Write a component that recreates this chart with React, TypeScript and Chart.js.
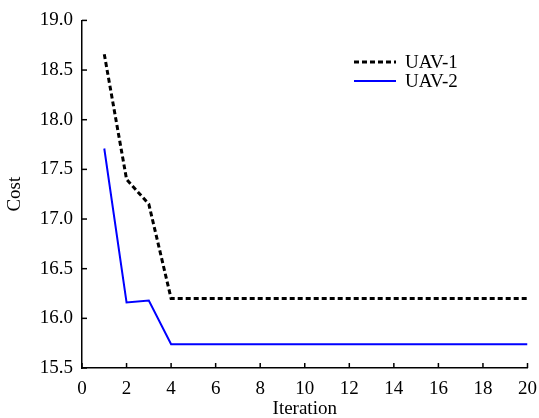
import React, { useEffect, useRef } from "react";
import { Chart, registerables } from "chart.js";

Chart.register(...registerables);

const iterations = [1, 2, 3, 4, 5, 6, 7, 8, 9, 10, 11, 12, 13, 14, 15, 16, 17, 18, 19, 20];
const uav1 = [18.66, 17.4, 17.15, 16.2, 16.2, 16.2, 16.2, 16.2, 16.2, 16.2, 16.2, 16.2, 16.2, 16.2, 16.2, 16.2, 16.2, 16.2, 16.2, 16.2];
const uav2 = [17.71, 16.16, 16.18, 15.74, 15.74, 15.74, 15.74, 15.74, 15.74, 15.74, 15.74, 15.74, 15.74, 15.74, 15.74, 15.74, 15.74, 15.74, 15.74, 15.74];
const seriesLabels = ["UAV-1", "UAV-2"];
const xTitle = "Iteration";
const yTitle = "Cost";

const FONT = '"Liberation Serif", "Times New Roman", serif';
const FS = 19;

const inwardTicks = {
  id: "inwardTicks",
  afterDraw(chart: any) {
    const ctx = chart.ctx;
    const area = chart.chartArea;
    ctx.save();
    ctx.strokeStyle = "#000";
    ctx.lineWidth = 1.5;
    const xs = chart.scales.x;
    xs.ticks.forEach((t: any) => {
      const px = xs.getPixelForValue(t.value);
      ctx.beginPath();
      ctx.moveTo(px, area.bottom);
      ctx.lineTo(px, area.bottom - 5);
      ctx.stroke();
    });
    const ys = chart.scales.y;
    ys.ticks.forEach((t: any) => {
      const py = ys.getPixelForValue(t.value);
      ctx.beginPath();
      ctx.moveTo(area.left, py);
      ctx.lineTo(area.left + 5, py);
      ctx.stroke();
    });
    ctx.restore();
  },
};

const customLegend = {
  id: "customLegend",
  afterDraw(chart: any) {
    const ctx = chart.ctx;
    ctx.save();
    const x0 = 354;
    const x1 = 396;
    const tx = 405;
    const rows = [62, 81];
    chart.data.datasets.forEach((ds: any, i: number) => {
      const y = rows[i];
      ctx.strokeStyle = ds.borderColor;
      ctx.lineWidth = ds.borderWidth;
      ctx.setLineDash(ds.borderDash || []);
      ctx.beginPath();
      ctx.moveTo(x0, y);
      ctx.lineTo(x1, y);
      ctx.stroke();
      ctx.setLineDash([]);
      ctx.fillStyle = "#000";
      ctx.font = `${FS}px ${FONT}`;
      ctx.textBaseline = "middle";
      ctx.textAlign = "left";
      ctx.fillText(ds.label, tx, y + 1);
    });
    ctx.restore();
  },
};

export default function App() {
  const ref = useRef<HTMLCanvasElement | null>(null);
  useEffect(() => {
    document.body.style.margin = "0";
    if (!ref.current) return;
    const chart = new Chart(ref.current, {
      type: "line",
      data: {
        datasets: [
          {
            label: seriesLabels[0],
            data: iterations.map((x, i) => ({ x, y: uav1[i] })),
            borderColor: "#000000",
            borderWidth: 3,
            borderDash: [5, 3],
            pointRadius: 0,
            fill: false,
            tension: 0,
          },
          {
            label: seriesLabels[1],
            data: iterations.map((x, i) => ({ x, y: uav2[i] })),
            borderColor: "#0000ff",
            borderWidth: 2,
            pointRadius: 0,
            fill: false,
            tension: 0,
          },
        ],
      },
      options: {
        animation: false,
        responsive: false,
        maintainAspectRatio: false,
        layout: { padding: { top: 18, right: 11, left: 0, bottom: 0 } },
        plugins: {
          legend: { display: false },
          tooltip: { enabled: false },
        },
        scales: {
          x: {
            type: "linear",
            min: 0,
            max: 20,
            afterFit: (s: any) => {
              s.height = 50;
            },
            ticks: {
              stepSize: 2,
              color: "#000",
              font: { family: FONT, size: FS, lineHeight: 2.0 },
              padding: 2,
              maxRotation: 0,
            },
            grid: { drawOnChartArea: false, drawTicks: false },
            border: { display: true, color: "#000", width: 1.5 },
            title: {
              display: true,
              text: xTitle,
              color: "#000",
              font: { family: FONT, size: FS, lineHeight: 0.9 },
              padding: { top: 0, bottom: 0 },
            },
          },
          y: {
            type: "linear",
            min: 15.5,
            max: 19.0,
            afterFit: (s: any) => {
              s.width = 82;
            },
            ticks: {
              stepSize: 0.5,
              color: "#000",
              font: { family: FONT, size: FS },
              padding: 9,
              callback: (v: any) => Number(v).toFixed(1),
            },
            grid: { drawOnChartArea: false, drawTicks: false },
            border: { display: true, color: "#000", width: 1.5 },
            title: {
              display: true,
              text: yTitle,
              color: "#000",
              font: { family: FONT, size: FS, lineHeight: 0.9 },
              padding: { top: 6, bottom: 0 },
            },
          },
        },
      },
      plugins: [inwardTicks, customLegend],
    });
    return () => chart.destroy();
  }, []);
  return (
    <div style={{ width: 539, height: 418 }}>
      <canvas ref={ref} width={539} height={418} style={{ width: 539, height: 418 }} />
    </div>
  );
}
